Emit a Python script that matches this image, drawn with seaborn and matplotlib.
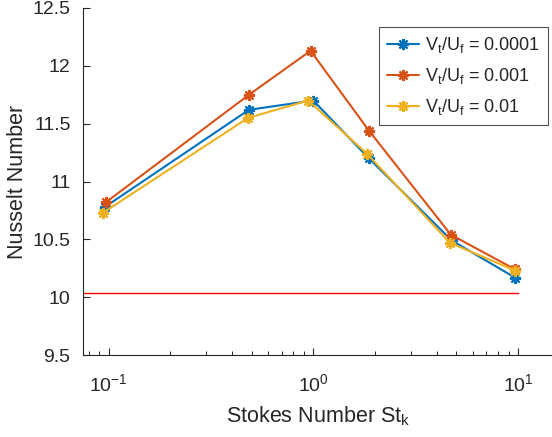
import matplotlib
matplotlib.use("Agg")
import matplotlib.pyplot as plt
from matplotlib.ticker import FixedLocator
import seaborn as sns
import pandas as pd

# Stokes numbers and Nusselt numbers for each terminal/flow velocity ratio
st_a = [0.096, 0.485, 1.0, 1.87, 4.75, 9.65]
nu_a = [10.78, 11.62, 11.70, 11.20, 10.49, 10.17]

st_b = [0.097, 0.485, 0.97, 1.87, 4.70, 9.70]
nu_b = [10.82, 11.75, 12.13, 11.44, 10.54, 10.24]

st_c = [0.094, 0.480, 0.945, 1.83, 4.65, 9.70]
nu_c = [10.73, 11.55, 11.70, 11.24, 10.47, 10.23]

labels = [r"V$_\mathregular{t}$/U$_\mathregular{f}$ = 0.0001",
          r"V$_\mathregular{t}$/U$_\mathregular{f}$ = 0.001",
          r"V$_\mathregular{t}$/U$_\mathregular{f}$ = 0.01"]
colors = ["#0072BD", "#D95319", "#EDB120"]

# reference Nusselt level
nu_ref = 10.04
ref_x = [0.075, 10.0]

x_ticks = [0.1, 1, 10]
x_tick_labels = ["10$^{\\mathregular{-1}}$", "10$^{\\mathregular{0}}$", "10$^{\\mathregular{1}}$"]
y_ticks = [9.5, 10, 10.5, 11, 11.5, 12, 12.5]
y_tick_labels = ["9.5", "10", "10.5", "11", "11.5", "12", "12.5"]

sns.set_theme(style="white")
plt.rcParams["font.family"] = ["Liberation Sans", "DejaVu Sans"]
plt.rcParams["mathtext.default"] = "regular"
plt.rcParams["axes.unicode_minus"] = False

fig = plt.figure(figsize=(5.52, 4.37), dpi=100)
ax = fig.add_axes([83 / 552, 82 / 437, 471 / 552, 347 / 437])

asterisk = (8, 2, 0)
for st, nu, lab, col in zip([st_a, st_b, st_c], [nu_a, nu_b, nu_c], labels, colors):
    df = pd.DataFrame({"St": st, "Nu": nu})
    sns.lineplot(data=df, x="St", y="Nu", ax=ax, color=col, linewidth=1.5,
                 marker=asterisk, markersize=8, markeredgewidth=1.5,
                 markeredgecolor=col, label=lab, sort=False)

ax.plot(ref_x, [nu_ref, nu_ref], color="#FF0000", linewidth=1.0)

ax.set_xscale("log")
ax.set_xlim(0.075, 15)
ax.set_ylim(9.5, 12.5)
ax.xaxis.set_major_locator(FixedLocator(x_ticks))
ax.set_xticklabels(x_tick_labels)
ax.set_yticks(y_ticks)
ax.set_yticklabels(y_tick_labels)

axis_col = "#262626"
for side in ["top", "right"]:
    ax.spines[side].set_visible(False)
for side in ["left", "bottom"]:
    ax.spines[side].set_color(axis_col)
    ax.spines[side].set_linewidth(0.8)

ax.tick_params(axis="both", which="major", direction="in", length=5, width=0.8,
               colors=axis_col, labelsize=14, labelcolor=axis_col,
               bottom=True, left=True)
ax.tick_params(axis="y", which="major", pad=9)
ax.tick_params(axis="x", which="major", pad=13)
ax.tick_params(axis="x", which="minor", direction="in", length=3, width=0.7,
               colors=axis_col, bottom=True)

ax.set_xlabel(r"Stokes Number St$_\mathregular{k}$", fontsize=15.5, color=axis_col,
              labelpad=7)
ax.set_ylabel("Nusselt Number", fontsize=15.5, color=axis_col, labelpad=3)

leg = ax.legend(loc="upper right", bbox_to_anchor=(0.987, 0.945), borderaxespad=0,
                fontsize=13, frameon=True, fancybox=False, handlelength=1.8,
                handletextpad=0.3, borderpad=0.45, labelspacing=0.6)
leg.get_frame().set_edgecolor(axis_col)
leg.get_frame().set_linewidth(0.8)
for t in leg.get_texts():
    t.set_color(axis_col)

fig.savefig("out.png", dpi=100)
